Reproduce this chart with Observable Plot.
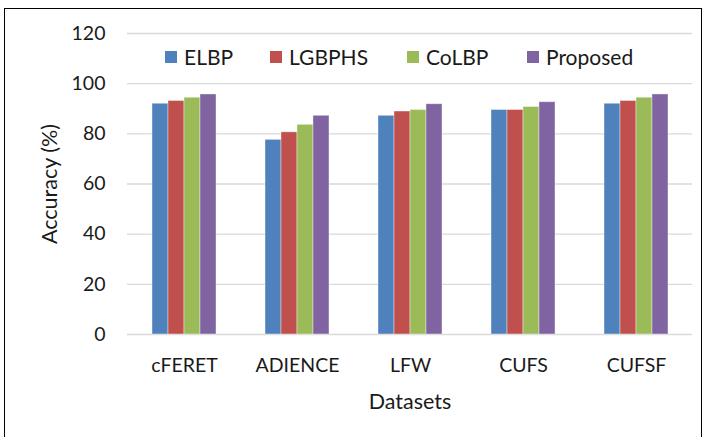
<!DOCTYPE html>
<html>
<head>
<meta charset="utf-8">
<script src="https://cdn.jsdelivr.net/npm/d3@7"></script>
<script src="https://cdn.jsdelivr.net/npm/@observablehq/plot@0.6"></script>
<style>
  html, body { margin: 0; padding: 0; background: #fff; }
  #wrap { position: relative; width: 716px; height: 437px; overflow: hidden; font-family: Lato, "Open Sans", sans-serif; }
  #frame { position: absolute; left: 4px; top: 8px; width: 698px; height: 460px; border: 1.5px solid #000; box-sizing: border-box; }
  #legend { position: absolute; top: 43px; left: 0; width: 716px; height: 26px; font-size: 21px; color: #1a1a1a; }
  .item { position: absolute; display: flex; align-items: center; white-space: nowrap; height: 26px; }
  .sw { width: 12px; height: 12px; margin-right: 7px; margin-top: 1px; }
</style>
</head>
<body>
<div id="wrap"><div id="frame"></div><div id="chart"></div><div id="legend"></div></div>
<script>
const datasets = ["cFERET", "ADIENCE", "LFW", "CUFS", "CUFSF"];
const methods = ["ELBP", "LGBPHS", "CoLBP", "Proposed"];
const colors = ["#4F81BD", "#C0504D", "#9BBB59", "#8064A2"];
const ELBP =     [92.0, 77.6, 87.2, 89.5, 92.0];
const LGBPHS =   [93.1, 80.6, 88.9, 89.5, 93.1];
const CoLBP =    [94.4, 83.6, 89.5, 90.7, 94.4];
const Proposed = [95.7, 87.2, 91.8, 92.6, 95.7];
const yTicks = [0, 20, 40, 60, 80, 100, 120];

const series = [ELBP, LGBPHS, CoLBP, Proposed];
const rows = [];
methods.forEach((m, i) => datasets.forEach((d, j) => rows.push({dataset: d, method: m, value: series[i][j]})));

const W = 716, H = 437, mL = 127, mR = 24, mT = 33, mB = 103;
const pInner = 0.434, pOuter = 0.217;
const step = (W - mL - mR) / (datasets.length - pInner + 2 * pOuter);
const bw = step * (1 - pInner) / methods.length;

const marks = [
  Plot.ruleY(yTicks, {stroke: "#d9d9d9", strokeWidth: 1.3}),
  ...methods.map((m, i) => Plot.barY(rows.filter(r => r.method === m), {
    x: "dataset", y: "value", fill: "method",
    insetLeft: i * bw, insetRight: (methods.length - 1 - i) * bw,
    stroke: "#ffffff", strokeOpacity: 0.5, strokeWidth: 0.8
  })),
  Plot.axisY({ticks: yTicks, tickSize: 0, tickPadding: 22, fontSize: 19.5, label: null}),
  Plot.axisY({ticks: [], tickSize: 0, fontSize: 21.5, label: "Accuracy (%)", labelAnchor: "center", labelArrow: "none", labelOffset: 86}),
  Plot.axisX({tickSize: 0, tickPadding: 24, fontSize: 19.5, label: null}),
  Plot.axisX({ticks: [], tickSize: 0, fontSize: 21.5, label: "Datasets", labelAnchor: "center", labelArrow: "none", labelOffset: 74})
];

const plot = Plot.plot({
  width: W, height: H,
  marginLeft: mL, marginRight: mR, marginTop: mT, marginBottom: mB,
  style: {fontFamily: "Lato, 'Open Sans', sans-serif", fontSize: "19.5px", color: "#1a1a1a", background: "transparent"},
  x: {type: "band", domain: datasets, paddingInner: pInner, paddingOuter: pOuter},
  y: {domain: [0, 120]},
  color: {domain: methods, range: colors},
  marks
});
document.getElementById("chart").appendChild(plot);

const legendX = [165, 270, 407, 527];
const lg = document.getElementById("legend");
methods.forEach((m, i) => {
  const it = document.createElement("div");
  it.className = "item";
  it.style.left = legendX[i] + "px";
  it.innerHTML = `<span class="sw" style="background:${colors[i]}"></span><span>${m}</span>`;
  lg.appendChild(it);
});
</script>
</body>
</html>
